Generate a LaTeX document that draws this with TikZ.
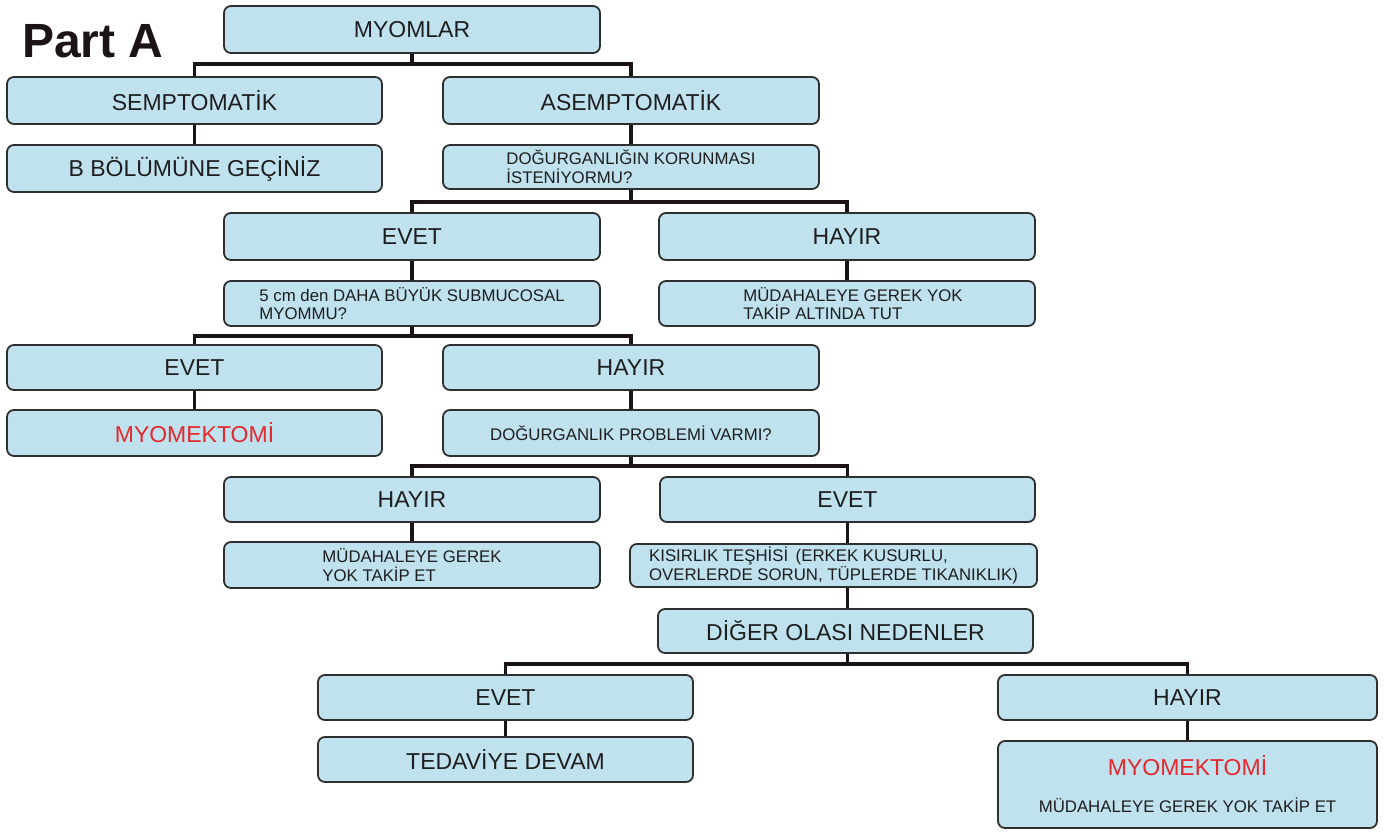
\documentclass[tikz,border=0pt]{standalone}
\usepackage{fontspec}
\setmainfont{Liberation Sans}
\usepackage{xcolor}
\usepackage{tikz}
\usetikzlibrary{positioning}
\definecolor{sky}{HTML}{C0E1EE}
\definecolor{rim}{HTML}{2F2F2F}
\definecolor{ink}{HTML}{1C1414}
\definecolor{txt}{HTML}{1E1E1E}
\definecolor{alert}{HTML}{E5282C}
\newcommand\bigtxt{\fontsize{23}{27}\selectfont}
\newcommand\smalltxt{\fontsize{16.8}{18.5}\selectfont}
\tikzset{
  cbox/.style={rounded corners=7pt,draw=rim,line width=1.8pt,fill=sky,text=txt,minimum width=375pt,minimum height=45pt,inner sep=2pt,align=center,font=\bigtxt},
  qbox/.style={cbox,align=left,font=\smalltxt},
  wire/.style={draw=ink,line width=3.6pt},
  title/.style={font=\fontsize{48}{52}\selectfont\bfseries,text=ink,anchor=base west,inner sep=0pt}
}
\begin{document}
\begin{tikzpicture}[x=1pt,y=-1pt]
\useasboundingbox[fill=white] (0,0) rectangle (1387,832);
\node[title] (part) at (22,58) {Part A};

\node[cbox,minimum width=376pt,minimum height=47pt] (myomlar) at (412,29.5) {MYOMLAR};
\node[cbox,minimum height=47pt] (semp) at (194.5,100.5) {SEMPTOMATİK};
\node[cbox,minimum width=376pt,minimum height=47pt] (asemp) at (631,100.5) {ASEMPTOMATİK};
\node[cbox,minimum height=47pt] (bbolum) at (194.5,168.5) {B BÖLÜMÜNE GEÇİNİZ};
\node[qbox,minimum width=376pt,minimum height=44pt] (dogur) at (631,167) {DOĞURGANLIĞIN KORUNMASI\\İSTENİYORMU?};

\node[cbox,minimum width=376pt,minimum height=47pt] (evet1) at (412,236.5) {EVET};
\node[cbox,minimum width=376pt,minimum height=47pt] (hayir1) at (847,236.5) {HAYIR};
\node[qbox,minimum width=376pt] (q5cm) at (412,303.5) {5 cm den DAHA BÜYÜK SUBMUCOSAL\\MYOMMU?};
\node[qbox,minimum width=376pt] (mud1) at (847,303.5) {\hspace*{12pt}MÜDAHALEYE GEREK YOK\\\hspace*{12pt}TAKİP ALTINDA TUT};

\node[cbox] (evet2) at (194.5,367.5) {EVET};
\node[cbox,minimum width=376pt] (hayir2) at (631,367.5) {HAYIR};
\node[cbox,minimum height=46pt,text=alert] (myomek1) at (194.5,433) {MYOMEKTOMİ};
\node[qbox,minimum width=376pt,minimum height=46pt] (dogprob) at (631,433) {DOĞURGANLIK PROBLEMİ VARMI?};

\node[cbox,minimum width=376pt] (hayir3) at (412,499.5) {HAYIR};
\node[cbox] (evet3) at (847.5,499.5) {EVET};
\node[qbox,minimum width=376pt,minimum height=46pt] (mud2) at (412,565) {MÜDAHALEYE GEREK\\YOK TAKİP ET};
\node[qbox,minimum width=407pt,minimum height=43pt] (kisir) at (833.5,565.5) {KISIRLIK TEŞHİSİ \,(ERKEK KUSURLU,\\OVERLERDE SORUN, TÜPLERDE TIKANIKLIK)};
\node[cbox,minimum height=44pt] (diger) at (845.5,631) {DİĞER OLASI NEDENLER};

\node[cbox] (evet4) at (505.5,697.5) {EVET};
\node[cbox,minimum width=379pt] (hayir4) at (1187.5,697.5) {HAYIR};
\node[cbox] (tedavi) at (505.5,759.5) {TEDAVİYE DEVAM};
\node[cbox,minimum width=379pt,minimum height=87pt] (final) at (1187.5,784.5) {{\color{alert}MYOMEKTOMİ}\\[10pt]{\smalltxt MÜDAHALEYE GEREK YOK TAKİP ET}};

\draw[wire] (myomlar.south) -- ++(0,10) -| (semp.north);
\draw[wire] (myomlar.south) -- ++(0,10) -| (asemp.north);
\draw[wire] (semp) -- (bbolum);
\draw[wire] (asemp) -- (dogur);
\draw[wire] (dogur.south) -- ++(0,12) -| (evet1.north);
\draw[wire] (dogur.south) -- ++(0,12) -| (hayir1.north);
\draw[wire] (evet1) -- (q5cm);
\draw[wire] (hayir1) -- (mud1);
\draw[wire] (q5cm.south) -- ++(0,9) -| (evet2.north);
\draw[wire] (q5cm.south) -- ++(0,9) -| (hayir2.north);
\draw[wire] (evet2) -- (myomek1);
\draw[wire] (hayir2) -- (dogprob);
\draw[wire] (dogprob.south) -- ++(0,9) -| (hayir3.north);
\draw[wire] (dogprob.south) -- ++(0,9) -| (evet3.north);
\draw[wire] (hayir3) -- (mud2);
\draw[wire] (evet3.south) -- (evet3.south |- kisir.north);
\draw[wire] (kisir.south -| evet3.south) -- (evet3.south |- diger.north);
\draw[wire] (diger.south -| evet3.south) -- ++(0,10) -| (evet4.north);
\draw[wire] (diger.south -| evet3.south) -- ++(0,10) -| (hayir4.north);
\draw[wire] (evet4) -- (tedavi);
\draw[wire] (hayir4) -- (final);
\end{tikzpicture}
\end{document}
